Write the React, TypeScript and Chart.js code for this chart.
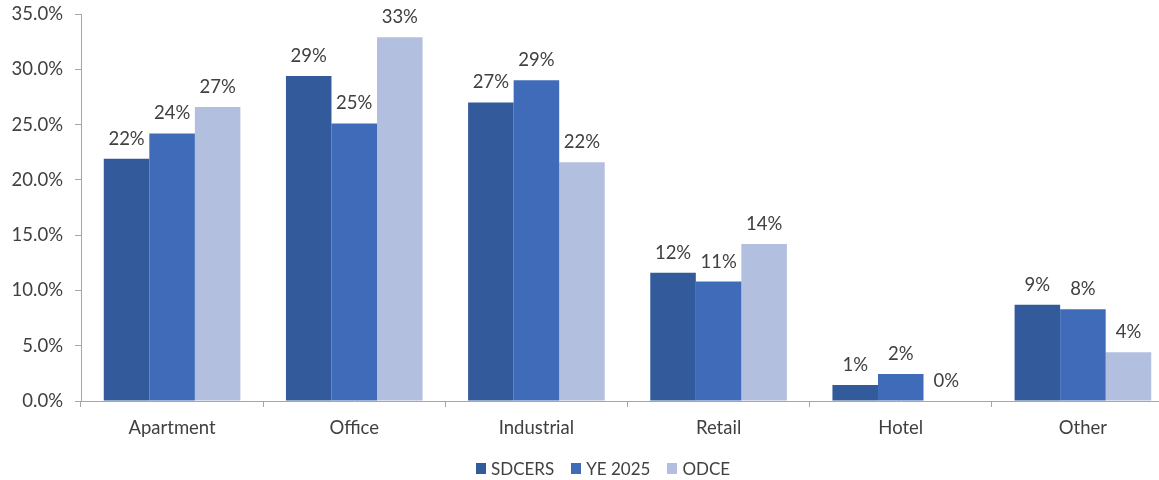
import React, { useEffect, useRef } from "react";
import { Chart, registerables } from "chart.js";

Chart.register(...registerables);

const categories = ["Apartment", "Office", "Industrial", "Retail", "Hotel", "Other"];
const sdcers = [21.9, 29.4, 27.0, 11.6, 1.45, 8.7];
const ye2025 = [24.2, 25.1, 29.0, 10.8, 2.45, 8.3];
const odce = [26.6, 32.9, 21.6, 14.2, 0, 4.4];
const seriesNames = ["SDCERS", "YE 2025", "ODCE"];
const seriesColors = ["#335A9B", "#3F6BB9", "#B3BFDF"];

const FONT = "Lato, 'Noto Sans', sans-serif";
const TEXT = "#404040";
const AXIS = "#A6A6A6";

const labelPlugin = {
  id: "barLabels",
  afterDatasetsDraw(chart: any) {
    const ctx = chart.ctx;
    ctx.save();
    ctx.font = `18.5px ${FONT}`;
    ctx.fillStyle = TEXT;
    ctx.textAlign = "center";
    ctx.textBaseline = "alphabetic";
    chart.data.datasets.forEach((ds: any, i: number) => {
      const meta = chart.getDatasetMeta(i);
      meta.data.forEach((bar: any, j: number) => {
        const v = ds.data[j];
        ctx.fillText(`${Math.round(v)}%`, bar.x, bar.y - 14);
      });
    });
    ctx.restore();
  },
};

export default function App() {
  const ref = useRef<HTMLCanvasElement>(null);
  useEffect(() => {
    if (!ref.current) return;
    const chart = new Chart(ref.current, {
      type: "bar",
      data: {
        labels: categories,
        datasets: [sdcers, ye2025, odce].map((d, i) => ({
          label: seriesNames[i],
          data: d,
          backgroundColor: seriesColors[i],
          borderWidth: 0,
          categoryPercentage: 0.75,
          barPercentage: 1,
        })),
      },
      options: {
        responsive: false,
        animation: false,
        layout: { padding: { top: 14, right: 6, bottom: 39, left: 0 } },
        plugins: { legend: { display: false }, tooltip: { enabled: false } },
        scales: {
          x: {
            grid: { display: true, drawOnChartArea: false, tickLength: 6, color: AXIS, offset: true },
            border: { display: true, color: AXIS, width: 1 },
            ticks: { color: TEXT, font: { family: FONT, size: 18.5 }, padding: 10 },
            afterFit: (s: any) => { s.height = 40; s.paddingLeft = 0; s.paddingRight = 0; },
          },
          y: {
            min: 0,
            max: 35,
            grid: { display: true, drawOnChartArea: false, tickLength: 6, color: AXIS },
            border: { display: true, color: AXIS, width: 1 },
            ticks: {
              stepSize: 5,
              color: TEXT,
              font: { family: FONT, size: 18.5 },
              padding: 12,
              callback: (v: any) => `${Number(v).toFixed(1)}%`,
            },
            afterFit: (s: any) => { s.width = 81; s.paddingTop = 0; s.paddingBottom = 0; },
          },
        },
      },
      plugins: [labelPlugin],
    });
    return () => chart.destroy();
  }, []);

  return (
    <div style={{ position: "absolute", left: 0, top: 0, width: 1159, height: 480, overflow: "hidden", background: "#fff" }}>
      <canvas ref={ref} width={1180} height={480} style={{ display: "block" }} />
      <div
        style={{
          position: "absolute",
          top: 458,
          left: 476,
          display: "flex",
          alignItems: "center",
          fontFamily: FONT,
          fontSize: 17,
          color: TEXT,
          whiteSpace: "nowrap",
        }}
      >
        {seriesNames.map((n, i) => (
          <div key={n} style={{ display: "flex", alignItems: "center", marginRight: i < 2 ? 17 : 0 }}>
            <span style={{ width: 10, height: 11, background: seriesColors[i], display: "inline-block", marginRight: 5 }} />
            <span>{n}</span>
          </div>
        ))}
      </div>
    </div>
  );
}
